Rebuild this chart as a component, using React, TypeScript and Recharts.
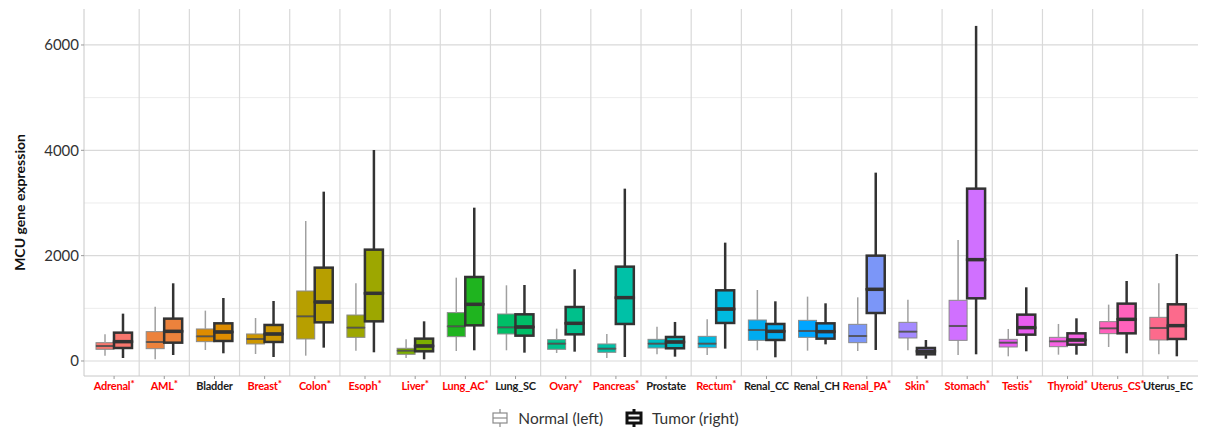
import React from 'react';
import { ComposedChart, Bar, XAxis, YAxis, CartesianGrid, Legend } from 'recharts';

// categories (x axis) and whether the tumor/normal difference is significant (red label + *)
const tissues = [
  'Adrenal', 'AML', 'Bladder', 'Breast', 'Colon', 'Esoph', 'Liver', 'Lung_AC', 'Lung_SC', 'Ovary', 'Pancreas',
  'Prostate', 'Rectum', 'Renal_CC', 'Renal_CH', 'Renal_PA', 'Skin', 'Stomach', 'Testis', 'Thyroid', 'Uterus_CS', 'Uterus_EC',
];
const significant = [
  true, true, false, true, true, true, true, true, false, true, true,
  false, true, false, false, true, true, true, true, true, true, false,
];

// Normal (left box): whisker low, Q1, median, Q3, whisker high
const normalMin = [101, 32, 209, 133, 101, 196, 57, 190, 203, 152, 57, 127, 114, 203, 196, 190, 203, 114, 89, 120, 266, 127];
const normalQ1 = [222, 234, 367, 323, 418, 449, 127, 462, 513, 222, 165, 247, 253, 392, 449, 348, 437, 392, 266, 272, 519, 399];
const normalMed = [285, 361, 468, 418, 848, 633, 196, 658, 639, 329, 234, 329, 329, 589, 570, 475, 557, 665, 348, 373, 620, 627];
const normalQ3 = [348, 557, 608, 513, 1329, 873, 241, 918, 892, 405, 323, 411, 468, 778, 772, 696, 734, 1152, 411, 449, 747, 829];
const normalMax = [506, 1032, 956, 816, 2658, 1475, 411, 1582, 1437, 614, 513, 652, 791, 1348, 1222, 1209, 1165, 2297, 608, 703, 1070, 1475];

// Tumor (right box)
const tumorMin = [57, 114, 146, 76, 253, 165, 32, 203, 158, 177, 76, 82, 234, 70, 316, 209, 44, 127, 184, 120, 146, 89];
const tumorQ1 = [247, 348, 380, 361, 734, 753, 184, 677, 481, 506, 703, 241, 722, 399, 424, 911, 127, 1190, 500, 310, 525, 418];
const tumorMed = [367, 563, 551, 513, 1120, 1285, 285, 1076, 646, 715, 1203, 361, 987, 563, 557, 1361, 184, 1924, 633, 399, 791, 671];
const tumorQ3 = [538, 804, 715, 684, 1772, 2114, 424, 1595, 886, 1025, 1791, 456, 1342, 703, 715, 2000, 247, 3272, 880, 525, 1089, 1076];
const tumorMax = [899, 1475, 1196, 1139, 3215, 4006, 753, 2911, 1443, 1741, 3272, 741, 2247, 1133, 1095, 3576, 399, 6362, 1399, 810, 1519, 2032];

const yTicks = [0, 2000, 4000, 6000];
const yMinor = [1000, 3000, 5000];

const palette = [
  '#F8766D', '#EC823C', '#DE8C00', '#CD9600', '#B79F00', '#9DA700', '#7CAE00', '#1FB41F', '#00BE67', '#00C08B', '#00C1A7',
  '#00BDC2', '#00BAE0', '#00ABF0', '#00A5FF', '#7B96F8', '#A58AFF', '#D070FF', '#E85DF0', '#F564E3', '#FF62BC', '#FC6A8C',
];

const rows = tissues.map((tissue, i) => ({
  tissue,
  nBase: normalMin[i],
  nLow: normalQ1[i] - normalMin[i],
  nBoxLo: normalMed[i] - normalQ1[i],
  nBoxHi: normalQ3[i] - normalMed[i],
  nHigh: normalMax[i] - normalQ3[i],
  tBase: tumorMin[i],
  tLow: tumorQ1[i] - tumorMin[i],
  tBoxLo: tumorMed[i] - tumorQ1[i],
  tBoxHi: tumorQ3[i] - tumorMed[i],
  tHigh: tumorMax[i] - tumorQ3[i],
}));

const styles = {
  normal: { whisker: '#a0a0a0', whiskerW: 1.5, border: '#8a8a8a', borderW: 1, median: 'rgba(50,50,50,0.6)', medianW: 2 },
  tumor: { whisker: '#333333', whiskerW: 2.5, border: '#333333', borderW: 2.5, median: '#333333', medianW: 3.5 },
};

const colorOf = (p: any) => palette[tissues.indexOf(p.payload?.tissue)] || '#999';

const Empty = () => <g />;

const whisker = (kind: 'normal' | 'tumor') => (p: any) => {
  const s = styles[kind];
  const cx = p.x + p.width / 2;
  return <line x1={cx} x2={cx} y1={p.y} y2={p.y + p.height} stroke={s.whisker} strokeWidth={s.whiskerW} />;
};

const boxPart = (kind: 'normal' | 'tumor', upper: boolean) => (p: any) => {
  const s = styles[kind];
  return (
    <g>
      <rect x={p.x} y={p.y} width={p.width} height={p.height} fill={colorOf(p)} stroke={s.border} strokeWidth={s.borderW} />
      {upper && (
        <line x1={p.x} x2={p.x + p.width} y1={p.y + p.height} y2={p.y + p.height} stroke={s.median} strokeWidth={s.medianW} />
      )}
    </g>
  );
};

// lines between categories, taken from the x axis band scale
const betweenCategories = ({ xAxis }: any) => {
  try {
    const s = xAxis?.scale;
    if (!s || typeof s.bandwidth !== 'function') return [];
    const toPx = typeof s === 'function' ? (v: string) => s(v) : (v: string) => s.map(v);
    const bw = s.bandwidth();
    const out = tissues.slice(0, -1).map((t) => toPx(t) + bw);
    return out.every((v) => Number.isFinite(v)) ? out : [];
  } catch (e) {
    return [];
  }
};

function TissueTick({ x, y, payload }: any) {
  const i = tissues.indexOf(payload.value);
  const sig = significant[i];
  return (
    <text x={x} y={y + 9} textAnchor="middle" fontFamily="Lato" fontWeight="bold" fontSize={11} letterSpacing={-0.2} fill={sig ? '#ff0000' : '#1a1a1a'}>
      {payload.value}
      {sig && <tspan dy={-3} fontSize={10}>*</tspan>}
    </text>
  );
}

function Glyph({ tumor }: { tumor: boolean }) {
  const c = tumor ? '#111' : '#8a8a8a';
  const w = tumor ? 3 : 1.2;
  return (
    <svg width={18} height={20}>
      <line x1={9} x2={9} y1={1} y2={19} stroke={c} strokeWidth={w} />
      <rect x={2} y={5} width={14} height={10} fill="#fff" stroke={c} strokeWidth={w} />
      <line x1={2} x2={16} y1={10} y2={10} stroke={c} strokeWidth={w} />
    </svg>
  );
}

function LegendContent() {
  return (
    <div style={{ display: 'flex', justifyContent: 'center', alignItems: 'center', height: 28, paddingLeft: 24, fontFamily: 'Lato', fontSize: 15.5, color: '#333' }}>
      <span style={{ display: 'flex', alignItems: 'center', gap: 9, marginRight: 22 }}><Glyph tumor={false} />Normal (left)</span>
      <span style={{ display: 'flex', alignItems: 'center', gap: 9 }}><Glyph tumor />Tumor (right)</span>
    </div>
  );
}

function YTitle({ viewBox }: any) {
  const x = viewBox.x + 13;
  const y = viewBox.y + viewBox.height / 2 + 10;
  return (
    <text x={x} y={y} transform={`rotate(-90, ${x}, ${y})`} textAnchor="middle" dominantBaseline="middle" fontFamily="Lato" fontWeight="bold" fontSize={14} fill="#111">
      MCU gene expression
    </text>
  );
}

export default function App() {
  return (
    <div style={{ width: 1200, height: 424 }}>
      <ComposedChart width={1200} height={424} data={rows} margin={{ top: 1, right: 10, bottom: 0, left: 0 }} barSize={18} barGap={0}>
        <CartesianGrid vertical={false} horizontalValues={yMinor} stroke="#ececec" strokeWidth={1} />
        <CartesianGrid vertical={false} horizontalValues={yTicks} stroke="#d9d9d9" strokeWidth={1.2} />
        <CartesianGrid horizontal={false} verticalCoordinatesGenerator={betweenCategories} stroke="#d9d9d9" strokeWidth={1.2} />
        <XAxis dataKey="tissue" interval={0} padding={{ left: 5, right: 5 }} height={28} tick={<TissueTick />} tickSize={3} tickMargin={2} tickLine={{ stroke: '#999' }} axisLine={{ stroke: '#c8c8c8' }} />
        <XAxis xAxisId="top" dataKey="tissue" orientation="top" height={0} tick={false} tickLine={false} axisLine={{ stroke: '#c8c8c8' }} />
        <YAxis domain={[-285, 6683]} ticks={yTicks} allowDataOverflow width={76} tickSize={3} tickMargin={2} tickLine={{ stroke: '#999' }} axisLine={{ stroke: '#c8c8c8' }} tick={{ fill: '#333', fontSize: 15, fontFamily: 'Lato' }} label={<YTitle />} />
        <YAxis yAxisId="right" orientation="right" domain={[-285, 6683]} allowDataOverflow width={0} tick={false} tickLine={false} axisLine={{ stroke: '#c8c8c8' }} />
        <Bar dataKey="nBase" stackId="n" shape={Empty} isAnimationActive={false} />
        <Bar dataKey="nLow" stackId="n" shape={whisker('normal')} isAnimationActive={false} />
        <Bar dataKey="nBoxLo" stackId="n" shape={boxPart('normal', false)} isAnimationActive={false} />
        <Bar dataKey="nBoxHi" stackId="n" shape={boxPart('normal', true)} isAnimationActive={false} />
        <Bar dataKey="nHigh" stackId="n" shape={whisker('normal')} isAnimationActive={false} />
        <Bar dataKey="tBase" stackId="t" shape={Empty} isAnimationActive={false} />
        <Bar dataKey="tLow" stackId="t" shape={whisker('tumor')} isAnimationActive={false} />
        <Bar dataKey="tBoxLo" stackId="t" shape={boxPart('tumor', false)} isAnimationActive={false} />
        <Bar dataKey="tBoxHi" stackId="t" shape={boxPart('tumor', true)} isAnimationActive={false} />
        <Bar dataKey="tHigh" stackId="t" shape={whisker('tumor')} isAnimationActive={false} />
        <Legend verticalAlign="bottom" content={<LegendContent />} wrapperStyle={{ height: 28 }} />
      </ComposedChart>
    </div>
  );
}
